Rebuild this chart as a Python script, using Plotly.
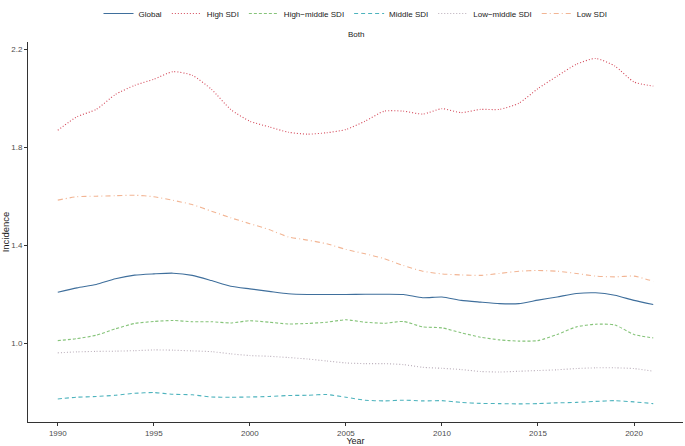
import plotly.graph_objects as go

years = list(range(1990, 2022))

global_vals = [1.209, 1.227, 1.241, 1.264, 1.279, 1.284, 1.287, 1.278, 1.257, 1.234,
               1.223, 1.213, 1.203, 1.200, 1.200, 1.200, 1.201, 1.201, 1.200, 1.187,
               1.190, 1.176, 1.169, 1.163, 1.163, 1.177, 1.190, 1.204, 1.207, 1.197,
               1.176, 1.159]
high_sdi = [1.870, 1.925, 1.955, 2.016, 2.053, 2.078, 2.109, 2.094, 2.037, 1.955,
            1.907, 1.884, 1.862, 1.854, 1.860, 1.873, 1.907, 1.948, 1.948, 1.936,
            1.958, 1.942, 1.955, 1.955, 1.980, 2.040, 2.091, 2.139, 2.163, 2.132,
            2.067, 2.050]
high_middle_sdi = [1.012, 1.020, 1.034, 1.060, 1.082, 1.090, 1.094, 1.089, 1.089, 1.084,
                   1.093, 1.087, 1.080, 1.082, 1.087, 1.097, 1.087, 1.083, 1.090, 1.068,
                   1.064, 1.044, 1.026, 1.015, 1.010, 1.012, 1.037, 1.068, 1.079, 1.076,
                   1.037, 1.023]
middle_sdi = [0.774, 0.781, 0.784, 0.789, 0.797, 0.800, 0.793, 0.791, 0.782, 0.781,
              0.782, 0.784, 0.788, 0.789, 0.792, 0.781, 0.769, 0.766, 0.769, 0.766,
              0.767, 0.760, 0.756, 0.755, 0.754, 0.755, 0.758, 0.760, 0.764, 0.767,
              0.762, 0.755]
low_middle_sdi = [0.962, 0.966, 0.968, 0.969, 0.971, 0.974, 0.973, 0.970, 0.967, 0.958,
                  0.951, 0.948, 0.943, 0.937, 0.929, 0.921, 0.918, 0.918, 0.914, 0.903,
                  0.899, 0.894, 0.886, 0.884, 0.887, 0.890, 0.893, 0.898, 0.901, 0.901,
                  0.898, 0.887]
low_sdi = [1.585, 1.599, 1.601, 1.603, 1.605, 1.599, 1.584, 1.567, 1.540, 1.513,
           1.489, 1.465, 1.435, 1.422, 1.407, 1.384, 1.366, 1.346, 1.318, 1.295,
           1.284, 1.280, 1.278, 1.286, 1.295, 1.298, 1.295, 1.286, 1.275, 1.272,
           1.275, 1.254]

series = [
    ("Global", global_vals, "#3f6f9c", "solid"),
    ("High SDI", high_sdi, "#d4495a", "1px,2px"),
    ("High\u2212middle SDI", high_middle_sdi, "#86c47a", "3px,2px"),
    ("Middle SDI", middle_sdi, "#4db3bd", "4px,3px"),
    ("Low\u2212middle SDI", low_middle_sdi, "#b9adb9", "1px,2px"),
    ("Low SDI", low_sdi, "#f2b594", "5px,3px,1px,3px"),
]

fig = go.Figure()
for name, vals, color, dash in series:
    fig.add_trace(go.Scatter(x=years, y=vals, mode="lines", name=name,
                             line=dict(color=color, width=1.1, dash=dash, shape="spline", smoothing=0.6)))

fig.update_layout(
    width=685, height=446,
    margin=dict(l=28, r=2, t=42, b=24, autoexpand=False),
    plot_bgcolor="white", paper_bgcolor="white",
    font=dict(family="Liberation Sans, Arial", size=8, color="#4d4d4d"),
    legend=dict(orientation="h", x=0.5, xanchor="center", y=1.075, yref="paper", yanchor="middle",
                font=dict(size=8, color="#1a1a1a"), tracegroupgap=0, itemwidth=30),
    showlegend=True,
)
fig.add_annotation(text="Both", x=0.5, xref="paper", y=1.0, yref="paper", yanchor="bottom",
                   yshift=1, showarrow=False, font=dict(size=8, color="#1a1a1a"))

fig.update_xaxes(range=[1988.45, 2022.55], tickvals=[1990, 1995, 2000, 2005, 2010, 2015, 2020],
                 showgrid=False, zeroline=False, showline=True, linecolor="#333333", linewidth=1,
                 ticks="outside", ticklen=3, tickcolor="#333333",
                 title=dict(text="Year", font=dict(size=9, color="#1a1a1a"), standoff=4))
fig.update_yaxes(range=[0.68, 2.23], tickvals=[1.0, 1.4, 1.8, 2.2], ticktext=["1.0", "1.4", "1.8", "2.2"],
                 showgrid=False, zeroline=False, showline=True, linecolor="#333333", linewidth=1,
                 ticks="outside", ticklen=3, tickcolor="#333333",
                 title=dict(text="Incidence", font=dict(size=9.5, color="#1a1a1a"), standoff=2))

# drop the browser's default page margin so the figure sits at the window corner
fig.write_html("out.html", config={"displayModeBar": False},
               post_script="document.body.style.margin='0';")
